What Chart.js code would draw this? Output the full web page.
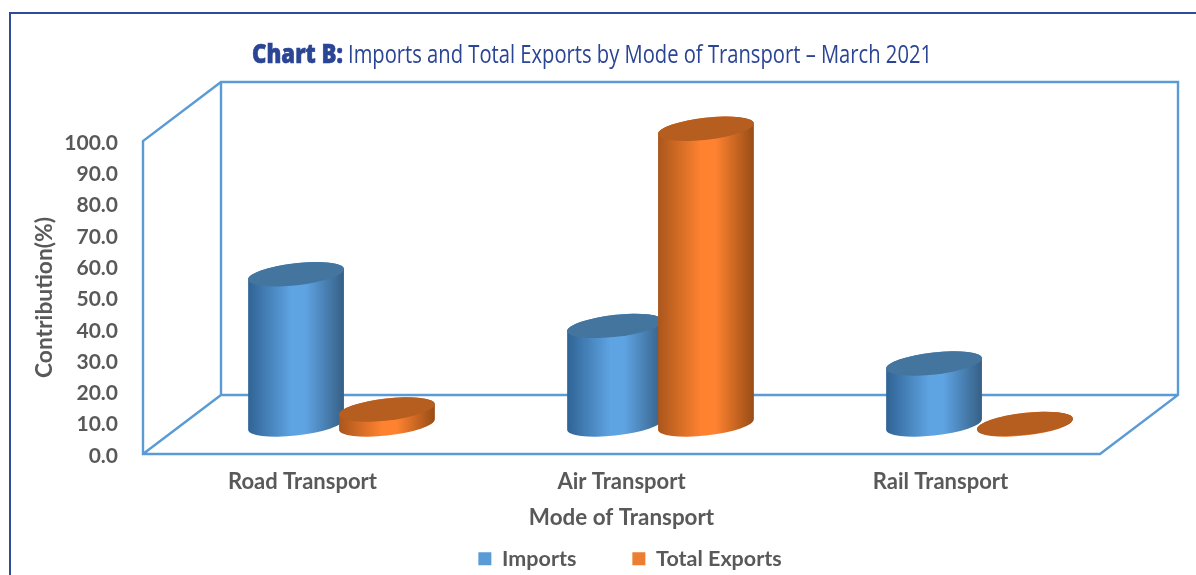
<!DOCTYPE html>
<html>
<head>
<meta charset="utf-8">
<title>Chart B</title>
<script src="https://cdn.jsdelivr.net/npm/chart.js@4"></script>
<style>
  html, body { margin: 0; padding: 0; background: #fff; overflow: hidden; }
  canvas { display: block; }
</style>
</head>
<body>
<canvas id="myChart" width="1196" height="575"></canvas>
<script>
var categories = ['Road Transport', 'Air Transport', 'Rail Transport'];
var importsValues = [48, 31.5, 19.5];
var exportsValues = [4.8, 94.5, 0.2];
var seriesNames = ['Imports', 'Total Exports'];
var tickValues = [0, 10, 20, 30, 40, 50, 60, 70, 80, 90, 100];

var frameColor = '#5b9bd5';
var borderColor = '#2f4b9b';
var textColor = '#595959';
var titleColor = '#2b4595';
var depthX = 78;
var depthY = 59;
var labelFont = 'Lato';

// dark edge, lit middle, dark edge, top cap
var shades = [
  { edgeL: '#2f6394', mid: '#5ea3e2', edgeR: '#355f85', top: '#44759f' },
  { edgeL: '#a9561c', mid: '#ff8230', edgeR: '#974c15', top: '#b55e20' }
];

function drawCylinder(ctx, cx, yTop, yBase, r, shade) {
  var b = 11;
  var rot = -6.5 * Math.PI / 180;
  var t0 = Math.atan2(-b * Math.sin(rot), r * Math.cos(rot));
  var g = ctx.createLinearGradient(cx - r, 0, cx + r, 0);
  g.addColorStop(0, shade.edgeL);
  g.addColorStop(0.45, shade.mid);
  g.addColorStop(0.6, shade.mid);
  g.addColorStop(1, shade.edgeR);
  ctx.beginPath();
  ctx.ellipse(cx, yBase, r, b, rot, t0, t0 + Math.PI);
  ctx.ellipse(cx, yTop, r, b, rot, t0 + Math.PI, t0 + 2 * Math.PI);
  ctx.closePath();
  ctx.fillStyle = g;
  ctx.fill();
  ctx.beginPath();
  ctx.ellipse(cx, yTop, r, b, rot, 0, 2 * Math.PI);
  ctx.fillStyle = shade.top;
  ctx.fill();
}

var frame3d = {
  id: 'frame3d',
  afterLayout: function (chart) {
    // legend sits off the canvas centre in the original
    chart.legend.left += 80;
    chart.legend.right += 80;
    chart.legend.top = 492;
    chart.legend.bottom = 575;
  },
  beforeDraw: function (chart) {
    var ctx = chart.ctx;
    ctx.save();
    ctx.strokeStyle = borderColor;
    ctx.lineWidth = 2;
    ctx.beginPath();
    ctx.moveTo(10, 575);
    ctx.lineTo(10, 13);
    ctx.lineTo(1196, 13);
    ctx.stroke();

    // title has two weights so it can't use the normal title plugin
    ctx.fillStyle = titleColor;
    ctx.textBaseline = 'middle';
    ctx.font = '800 26px "Open Sans"';
    ctx.strokeStyle = titleColor;
    ctx.lineWidth = 0.6;
    ctx.fillText('Chart B:', 252, 56, 91);
    ctx.strokeText('Chart B:', 252, 56, 91);
    ctx.font = '25px "Open Sans"';
    ctx.fillText('Imports and Total Exports by Mode of Transport – March 2021', 348, 56, 584);
    ctx.restore();
  },
  beforeDatasetsDraw: function (chart) {
    var ctx = chart.ctx;
    var a = chart.chartArea;
    ctx.save();
    ctx.strokeStyle = frameColor;
    ctx.lineWidth = 2.4;
    ctx.lineJoin = 'miter';
    ctx.beginPath();
    ctx.moveTo(a.left, a.bottom);
    ctx.lineTo(a.right, a.bottom);
    ctx.lineTo(a.right + depthX, a.bottom - depthY);
    ctx.lineTo(a.right + depthX, a.top - depthY);
    ctx.lineTo(a.left + depthX, a.top - depthY);
    ctx.lineTo(a.left, a.top);
    ctx.closePath();
    ctx.moveTo(a.left, a.bottom);
    ctx.lineTo(a.left + depthX, a.bottom - depthY);
    ctx.lineTo(a.right + depthX, a.bottom - depthY);
    ctx.moveTo(a.left + depthX, a.bottom - depthY);
    ctx.lineTo(a.left + depthX, a.top - depthY);
    ctx.stroke();

    // cylinders stand half way back on the floor, positions come from the bar elements
    chart.data.datasets.forEach(function (ds, i) {
      chart.getDatasetMeta(i).data.forEach(function (bar) {
        drawCylinder(ctx, bar.x + depthX / 2, bar.y - depthY / 2, bar.base - depthY / 2, bar.width * 0.53, shades[i]);
      });
    });
    ctx.restore();
    return false;
  }
};

new Chart('myChart', {
  type: 'bar',
  data: {
    labels: categories,
    datasets: [
      { label: seriesNames[0], data: importsValues, backgroundColor: frameColor },
      { label: seriesNames[1], data: exportsValues, backgroundColor: '#ed7d31' }
    ]
  },
  options: {
    responsive: false,
    animation: false,
    layout: { padding: { top: 141, right: 96, left: 0, bottom: 0 } },
    datasets: { bar: { barPercentage: 1, categoryPercentage: 0.57 } },
    plugins: {
      title: { display: false },
      tooltip: { enabled: false },
      legend: {
        position: 'bottom',
        maxHeight: 30,
        labels: {
          boxWidth: 13,
          boxHeight: 13,
          padding: 56,
          color: textColor,
          font: { family: labelFont, size: 21.5, weight: 'bold' }
        }
      }
    },
    scales: {
      x: {
        afterFit: function (s) { s.height = 91; },
        grid: { display: false, drawTicks: false },
        border: { display: false },
        ticks: { color: textColor, padding: 15, font: { family: labelFont, size: 22, weight: 'bold' } },
        title: {
          display: true,
          text: 'Mode of Transport',
          color: textColor,
          padding: { top: 0, bottom: 14 },
          font: { family: labelFont, size: 22.4, weight: 'bold' }
        }
      },
      y: {
        min: 0,
        max: 100,
        afterFit: function (s) { s.width = 143; },
        afterBuildTicks: function (s) {
          s.ticks = tickValues.map(function (v) { return { value: v }; });
        },
        grid: { display: false, drawTicks: false },
        border: { display: false },
        ticks: {
          color: textColor,
          padding: 25,
          labelOffset: 2,
          font: { family: labelFont, size: 21, weight: 'bold' },
          callback: function (v) { return v.toFixed(1); }
        },
        title: {
          display: true,
          text: 'Contribution(%)',
          color: textColor,
          padding: { top: 31, bottom: 0 },
          font: { family: labelFont, size: 22.8, weight: 'bold' }
        }
      }
    }
  },
  plugins: [frame3d]
});
</script>
</body>
</html>
